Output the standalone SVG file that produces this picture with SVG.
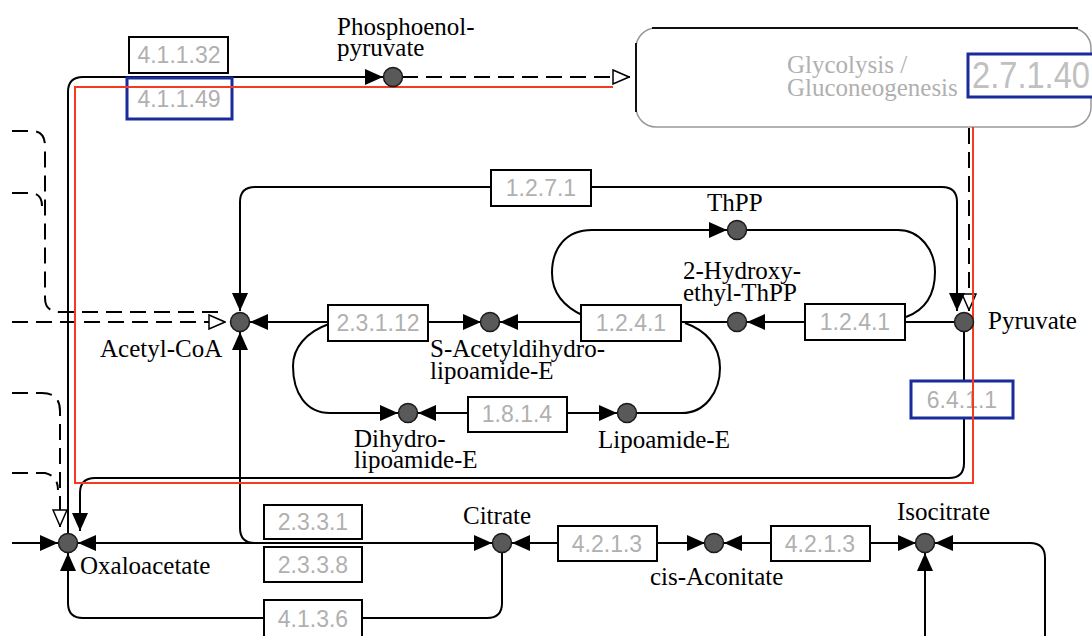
<svg xmlns="http://www.w3.org/2000/svg" width="1092" height="636" viewBox="0 0 1092 636">
<style>
.ln{fill:none;stroke:#000;stroke-width:2}
.dash{fill:none;stroke:#000;stroke-width:2;stroke-dasharray:16,8}
.red{fill:none;stroke:#f43a1f;stroke-width:2}
.cpd{fill:#595959;stroke:#1a1a1a;stroke-width:1.5}
.lbl{font-family:"Liberation Serif","Times New Roman",serif;font-size:25px;fill:#000}
.enz{fill:#fff;stroke:#000;stroke-width:2}
.enzb{fill:#fff;stroke:#1a2b9b;stroke-width:3}
.et{font-family:"Liberation Sans",Arial,sans-serif;font-size:23px;fill:#b0b0b0;text-anchor:middle}
.map{font-family:"Liberation Serif","Times New Roman",serif;font-size:25px;fill:#b0b0b0}
</style>
<defs>
<marker id="af" viewBox="0 0 18 16" refX="18" refY="8" markerWidth="18" markerHeight="16" orient="auto-start-reverse" markerUnits="userSpaceOnUse"><path d="M0,0 L18,8 L0,16 z" fill="#000"/></marker>
<marker id="ao" viewBox="0 0 18 16" refX="18" refY="8" markerWidth="18" markerHeight="16" orient="auto" markerUnits="userSpaceOnUse"><path d="M1,1 L17,8 L1,15 z" fill="#fff" stroke="#000" stroke-width="1.5"/></marker>
</defs>
<rect width="1092" height="636" fill="#fff"/>

<g id="map-glycolysis">
<rect x="636" y="28" width="455" height="99" rx="20" fill="#fff" stroke="#999" stroke-width="1.5"/>
<path d="M652,28 H1078 M636,43 V112" stroke="#111" stroke-width="2" fill="none"/>
<text class="map" x="787" y="73">Glycolysis /</text>
<text class="map" x="787" y="96">Gluconeogenesis</text>
</g>

<g id="connectors">
<path class="ln" d="M68,534 V92 Q68,77 83,77 H383" marker-end="url(#af)"/>
<path class="dash" d="M402,77 H630" marker-end="url(#ao)"/>
<path class="dash" d="M969,128 V311" marker-end="url(#ao)"/>
<path class="ln" d="M240,311 V202 Q240,187 255,187 H942 Q957,187 957,202 V311" marker-start="url(#af)" marker-end="url(#af)"/>
<path class="ln" d="M584,316 C562,306 552,292 552,273 C552,248 566,230 592,230 H727" marker-end="url(#af)"/>
<path class="ln" d="M746,230 H898 C920,230 935,250 935,272 C935,295 925,310 906,317"/>
<path class="ln" d="M955,322 H905"/>
<path class="ln" d="M805,322 H747" marker-end="url(#af)"/>
<path class="ln" d="M681,322 H728"/>
<path class="ln" d="M581,322 H500" marker-end="url(#af)"/>
<path class="ln" d="M428,322 H481" marker-end="url(#af)"/>
<path class="ln" d="M328,322 H250" marker-end="url(#af)"/>
<path class="ln" d="M329,324 C306,332 293,348 293,366 C293,393 306,413 330,413 H398" marker-end="url(#af)"/>
<path class="ln" d="M468,413 H418" marker-end="url(#af)"/>
<path class="ln" d="M567,413 H617" marker-end="url(#af)"/>
<path class="ln" d="M636,413 H682 C705,413 720,392 720,368 C720,345 705,330 685,323"/>
<path class="dash" d="M12,131 H32 Q45,131 45,146 V298 Q45,312 60,312 H222"/>
<path class="dash" d="M12,193 H30 Q42,193 42,206"/>
<path class="dash" d="M12,322 H226" marker-end="url(#ao)"/>
<path class="dash" d="M12,393 H42 Q60,393 60,411 V527" marker-end="url(#ao)"/>
<path class="dash" d="M12,473 H45 Q58,476 58,490"/>
<path class="ln" d="M964,331 V463 Q964,478 949,478 H95 Q80,478 80,493 V531" marker-end="url(#af)"/>
<path class="ln" d="M12,543 H58" marker-end="url(#af)"/>
<path class="ln" d="M78,543 H492" marker-start="url(#af)" marker-end="url(#af)"/>
<path class="ln" d="M240,332 V528 Q240,543 255,543" marker-start="url(#af)"/>
<path class="ln" d="M558,543 H512" marker-end="url(#af)"/>
<path class="ln" d="M657,543 H705" marker-end="url(#af)"/>
<path class="ln" d="M771,543 H724" marker-end="url(#af)"/>
<path class="ln" d="M870,543 H916" marker-end="url(#af)"/>
<path class="ln" d="M1045,640 V558 Q1045,543 1030,543 H935" marker-end="url(#af)"/>
<path class="ln" d="M925,640 V553" marker-end="url(#af)"/>
<path class="ln" d="M502,552 V603 Q502,618 487,618 H83 Q68,618 68,603 V553" marker-end="url(#af)"/>
</g>

<g id="enz-4.1.1.32"><rect class="enz" x="129" y="37" width="99" height="36"/><text class="et" x="179" y="63">4.1.1.32</text></g>
<g id="enz-4.1.1.49"><rect class="enzb" x="127" y="78" width="105" height="41"/><text class="et" x="179" y="107">4.1.1.49</text></g>
<g id="enz-2.7.1.40"><rect class="enzb" x="968" y="54" width="140" height="43"/><text x="972" y="88" font-family="Liberation Sans,Arial,sans-serif" font-size="36" fill="#c0c0c0" textLength="118" lengthAdjust="spacingAndGlyphs">2.7.1.40</text></g>
<g id="enz-1.2.7.1"><rect class="enz" x="491" y="170" width="100" height="36"/><text class="et" x="541" y="196">1.2.7.1</text></g>
<g id="enz-2.3.1.12"><rect class="enz" x="328" y="305" width="100" height="36"/><text class="et" x="378" y="331">2.3.1.12</text></g>
<g id="enz-1.2.4.1-a"><rect class="enz" x="581" y="305" width="100" height="36"/><text class="et" x="631" y="331">1.2.4.1</text></g>
<g id="enz-1.2.4.1-b"><rect class="enz" x="805" y="304" width="100" height="36"/><text class="et" x="855" y="330">1.2.4.1</text></g>
<g id="enz-1.8.1.4"><rect class="enz" x="468" y="397" width="99" height="35"/><text class="et" x="517" y="422">1.8.1.4</text></g>
<g id="enz-6.4.1.1"><rect class="enzb" x="911" y="381" width="102" height="37"/><text class="et" x="962" y="408">6.4.1.1</text></g>
<g id="enz-2.3.3.1"><rect class="enz" x="264" y="505" width="98" height="34"/><text class="et" x="313" y="530">2.3.3.1</text></g>
<g id="enz-2.3.3.8"><rect class="enz" x="264" y="547" width="98" height="35"/><text class="et" x="313" y="573">2.3.3.8</text></g>
<g id="enz-4.1.3.6"><rect class="enz" x="264" y="600" width="98" height="40"/><text class="et" x="313" y="627">4.1.3.6</text></g>
<g id="enz-4.2.1.3-a"><rect class="enz" x="558" y="526" width="99" height="35"/><text class="et" x="607" y="552">4.2.1.3</text></g>
<g id="enz-4.2.1.3-b"><rect class="enz" x="771" y="526" width="99" height="35"/><text class="et" x="820" y="552">4.2.1.3</text></g>

<g id="highlight"><path class="red" d="M613,87 H75 V483 H973 V127"/></g>

<g id="cpd-pep"><circle class="cpd" cx="393" cy="77" r="9.5"/><text class="lbl" x="337" y="35">Phosphoenol-</text><text class="lbl" x="337" y="56">pyruvate</text></g>
<g id="cpd-acetylcoa"><circle class="cpd" cx="240" cy="322" r="9.5"/><text class="lbl" x="100" y="357">Acetyl-CoA</text></g>
<g id="cpd-sacetyl"><circle class="cpd" cx="490" cy="322" r="9.5"/><text class="lbl" x="430" y="357">S-Acetyldihydro-</text><text class="lbl" x="430" y="379">lipoamide-E</text></g>
<g id="cpd-hethpp"><circle class="cpd" cx="737" cy="322" r="9.5"/><text class="lbl" x="683" y="279">2-Hydroxy-</text><text class="lbl" x="683" y="301">ethyl-ThPP</text></g>
<g id="cpd-thpp"><circle class="cpd" cx="737" cy="230" r="9.5"/><text class="lbl" x="707" y="211">ThPP</text></g>
<g id="cpd-pyruvate"><circle class="cpd" cx="964" cy="322" r="9.5"/><text class="lbl" x="988" y="329">Pyruvate</text></g>
<g id="cpd-dihydrolipoamide"><circle class="cpd" cx="408" cy="413" r="9.5"/><text class="lbl" x="354" y="447">Dihydro-</text><text class="lbl" x="354" y="468">lipoamide-E</text></g>
<g id="cpd-lipoamide"><circle class="cpd" cx="627" cy="413" r="9.5"/><text class="lbl" x="598" y="448">Lipoamide-E</text></g>
<g id="cpd-oxaloacetate"><circle class="cpd" cx="68" cy="543" r="9.5"/><text class="lbl" x="80" y="574">Oxaloacetate</text></g>
<g id="cpd-citrate"><circle class="cpd" cx="502" cy="543" r="9.5"/><text class="lbl" x="463" y="524">Citrate</text></g>
<g id="cpd-cisaconitate"><circle class="cpd" cx="714" cy="543" r="9.5"/><text class="lbl" x="650" y="585">cis-Aconitate</text></g>
<g id="cpd-isocitrate"><circle class="cpd" cx="925" cy="543" r="9.5"/><text class="lbl" x="897" y="520">Isocitrate</text></g>
</svg>
